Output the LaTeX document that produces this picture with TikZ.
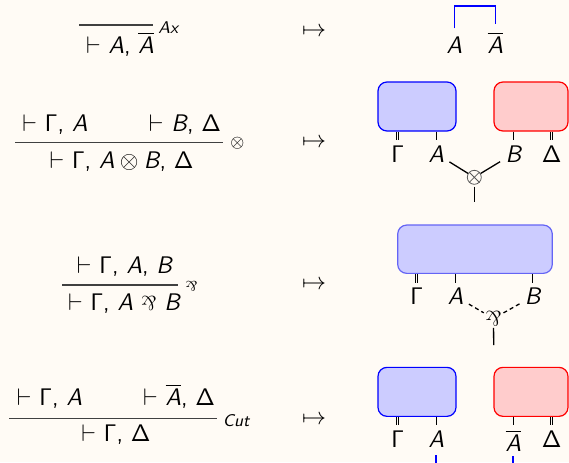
\RequirePackage{fix-cm}
\documentclass[tikz,border=0pt]{standalone}
\usepackage{graphicx}
\definecolor{bgc}{RGB}{255,251,245}
\definecolor{boxblue}{RGB}{204,204,255}
\definecolor{boxred}{RGB}{255,204,204}
\definecolor{bdblue}{RGB}{100,100,245}
\newcommand{\mainsz}{\fontsize{12}{14}\selectfont}
\newcommand{\labsz}{\fontsize{8.5}{10}\selectfont}
\newcommand{\fA}{{\sffamily\itshape A}}
\newcommand{\fB}{{\sffamily\itshape B}}
\newcommand{\fG}{$\mathsf{\Gamma}$}
\newcommand{\fD}{$\mathsf{\Delta}$}
\newcommand{\fnA}{$\overline{\hbox{\fA}}$}
\newcommand{\fvd}{$\vdash$}
\newcommand{\ftens}{${}\otimes{}$}
\newcommand{\fpar}[1]{\rotatebox[origin=c]{180}{\fontsize{#1}{#1}\selectfont\rmfamily\&}}
\tikzset{
  seq/.style={font=\mainsz\sffamily, inner sep=0pt},
  lab/.style={font=\mainsz\sffamily, inner sep=2.5pt},
  rlab/.style={font=\labsz\sffamily, inner sep=0pt},
  mapsnode/.style={font=\mainsz, inner sep=0pt},
  rulel/.style={draw=black!75, line width=0.55pt},
  wire/.style={draw=black, line width=0.65pt},
  dwire/.style={draw=black, double=bgc, double distance=0.7pt, line width=0.5pt},
  dashwire/.style={draw=black, line width=0.65pt, dash pattern=on 2pt off 1.6pt},
  bbox/.style={draw=blue, fill=boxblue, rounded corners=4.5pt, line width=0.6pt, inner sep=0pt, minimum width=39pt, minimum height=24.5pt},
  rbox/.style={draw=red, fill=boxred, rounded corners=4.5pt, line width=0.6pt, inner sep=0pt, minimum width=37pt, minimum height=24.5pt},
  bbox3/.style={draw=bdblue, fill=boxblue, rounded corners=4.5pt, line width=0.6pt, inner sep=0pt, minimum width=77.3pt, minimum height=24.15pt},
  tensnode/.style={circle, draw=black!65, line width=0.4pt, minimum size=7pt, inner sep=0pt},
  parnode/.style={inner sep=0.6pt},
  linkblue/.style={draw=blue, line width=0.9pt}
}
\begin{document}
\begin{tikzpicture}[x=0.5pt, y=-0.5pt]
\useasboundingbox (0,0) rectangle (569,462);
\fill[bgc] (0,0) rectangle (569,462);
\clip (0,0) rectangle (569,462);

% ---------- Row 1: axiom
\node[seq, anchor=base] (c1) at (120,53.3) {\fvd\ \fA, \fnA};
\draw[rulel] (79,25) -- (153,25);
\node[rlab, anchor=base] (l1) at (169,33) {\textit{Ax}};
\node[mapsnode] (m1) at (314,32) {$\mapsto$};
\node[lab, anchor=base] (a1) at (454.5,53.3) {\fA};
\node[lab, anchor=base] (na1) at (495.5,53.3) {\fnA};
\coordinate (top1) at (0,9.3);
\draw[linkblue] ([yshift=1.5pt]a1.north) -- ([yshift=1.5pt]a1.north |- top1) -| ([yshift=1.5pt]na1.north);

% ---------- Row 2: tensor
\node[seq, anchor=base] (p2a) at (55,131.7) {\fvd\ \fG, \fA};
\node[seq, anchor=base] (p2b) at (185,131.7) {\fvd\ \fB, \fD};
\draw[rulel] (15,142.3) -- (223,142.3);
\node[seq, anchor=base] (c2) at (121.5,168.3) {\fvd\ \fG, \fA\ftens\fB, \fD};
\node[rlab] (l2) at (237.5,143.3) {$\otimes$};
\node[mapsnode] (m2) at (314,143) {$\mapsto$};
\node[bbox] (b2) at (417,106.5) {};
\node[rbox] (r2) at (531,106.5) {};
\node[lab, anchor=north] (g2) at (397.7,140) {\fG};
\node[lab, anchor=north] (a2) at (436.3,140) {\fA};
\node[lab, anchor=north] (bb2) at (513.3,140) {\fB};
\node[lab, anchor=north] (d2) at (551.7,140) {\fD};
\draw[dwire] (g2.north |- b2.south) -- (g2.north);
\draw[wire] (a2.north |- b2.south) -- (a2.north);
\draw[wire] (bb2.north |- r2.south) -- (bb2.north);
\draw[dwire] (d2.north |- r2.south) -- (d2.north);
\node[tensnode] (t2) at (474.3,177.3) {};
\draw[black!65, line width=0.4pt] (t2.north east) -- (t2.south west) (t2.north west) -- (t2.south east);
\coordinate (s2) at (474.3,201.7);
\draw[wire] (a2) -- (t2);
\draw[wire] (bb2) -- (t2);
\draw[wire, shorten <=1pt] (t2) -- (s2);

% ---------- Row 3: par
\node[seq, anchor=base] (p3) at (124.5,273.3) {\fvd\ \fG, \fA, \fB};
\draw[rulel] (62,285) -- (178,285);
\node[seq, anchor=base] (c3) at (124,310) {\fvd\ \fG, \fA\ \fpar{10}\ \fB};
\node[rlab] (l3) at (191.5,286) {\fpar{7}};
\node[mapsnode] (m3) at (314,285) {$\mapsto$};
\node[bbox3] (b3) at (475,249.2) {};
\node[lab, anchor=north] (g3) at (416.7,282.7) {\fG};
\node[lab, anchor=north] (a3) at (455.7,282.7) {\fA};
\node[lab, anchor=north] (bb3) at (532.7,282.7) {\fB};
\draw[dwire] (g3.north |- b3.south) -- (g3.north);
\draw[wire] (a3.north |- b3.south) -- (a3.north);
\draw[wire] (bb3.north |- b3.south) -- (bb3.north);
\node[parnode] (pp3) at (493.5,318.5) {\fpar{10.5}};
\coordinate (s3) at (493.7,345);
\draw[dashwire] (a3) -- (pp3);
\draw[dashwire] (bb3) -- (pp3);
\draw[wire] (pp3) -- (s3);

% ---------- Row 4: cut
\node[seq, anchor=base] (p4a) at (49.5,405) {\fvd\ \fG, \fA};
\node[seq, anchor=base] (p4b) at (179,405) {\fvd\ \fnA, \fD};
\draw[rulel] (9,418.3) -- (217,418.3);
\node[seq, anchor=base] (c4) at (116,441.7) {\fvd\ \fG, \fD};
\node[rlab, anchor=base] (l4) at (236.5,426) {\textit{Cut}};
\node[mapsnode] (m4) at (314,420) {$\mapsto$};
\node[bbox] (b4) at (417,391.85) {};
\node[rbox] (r4) at (531,391.85) {};
\node[lab, anchor=north] (g4) at (397.7,425) {\fG};
\node[lab, anchor=north] (a4) at (436.3,425) {\fA};
\node[lab, anchor=north] (na4) at (513.3,425) {\fnA};
\node[lab, anchor=north] (d4) at (551.7,425) {\fD};
\draw[dwire] (g4.north |- b4.south) -- (g4.north);
\draw[wire] (a4.north |- b4.south) -- (a4.north);
\draw[wire] (na4.north |- r4.south) -- (na4.north);
\draw[dwire] (d4.north |- r4.south) -- (d4.north);
\draw[linkblue, shorten <=1.5pt] (a4.south) -- ++(0,25) -| (na4.south);
\end{tikzpicture}
\end{document}
